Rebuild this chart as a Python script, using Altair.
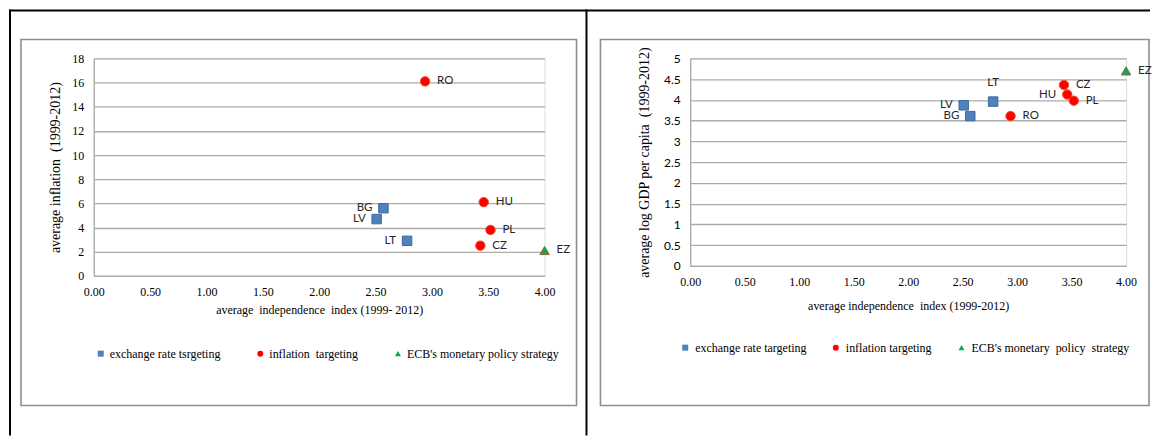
import json
import altair as alt
import pandas as pd

# ---------------- data ----------------
countries = ["BG", "LV", "LT", "RO", "HU", "PL", "CZ", "EZ"]
strategy_group = [0, 0, 0, 1, 1, 1, 1, 2]
independence = [2.57, 2.51, 2.78, 2.94, 3.46, 3.52, 3.43, 4.00]
inflation = [5.6, 4.7, 2.9, 16.1, 6.1, 3.8, 2.5, 2.1]
log_gdp = [3.61, 3.87, 3.96, 3.61, 4.13, 3.98, 4.36, 4.70]

NB = "\u00a0"
left_strategies = ["exchange rate tsrgeting", "inflation " + NB + "targeting",
                   "ECB's monetary policy strategy"]
right_strategies = ["exchange rate targeting", "inflation targeting",
                    "ECB's monetary " + NB + "policy " + NB + "strategy"]

x_ticks = [0, 0.5, 1.0, 1.5, 2.0, 2.5, 3.0, 3.5, 4.0]
left_y_ticks = [0, 2, 4, 6, 8, 10, 12, 14, 16, 18]
right_y_ticks = [0, 0.5, 1, 1.5, 2, 2.5, 3, 3.5, 4, 4.5, 5]

left_y_title = "average inflation " + NB + "(1999-2012)"
left_x_title = "average " + NB + "independence " + NB + "index (1999- 2012)"
right_y_title = "average log GDP per capita " + NB + "(1999-2012)"
right_x_title = "average independence " + NB + "index (1999-2012)"

# ---------------- styles ----------------
fill_colors = ["#4F81BD", "#FF0000", "#00B050"]
stroke_colors = ["#3F6A9E", "#F0502A", "#A0603A"]
shapes = ["square", "circle", "triangle-up"]
GRID = "#ABABAB"
SERIF = "Liberation Serif"
SANS = "Lato"


def panel(yvals, strategies, y_ticks, y_max, y_title, x_title, w, h,
          frame, legend_xy, label_offset, col_pad, left_lbls, above_lbls,
          y_label_font, y_title_pad, x_title_pad, extra_layers=()):
    df = pd.DataFrame({
        "country": countries,
        "index": independence,
        "value": yvals,
        "strategy": [strategies[g] for g in strategy_group],
    })
    base = alt.Chart(df)
    x = alt.X("index:Q",
              scale=alt.Scale(domain=[0, 4], nice=False, zero=True),
              axis=alt.Axis(values=x_ticks, format=".2f", title=x_title,
                            grid=False, ticks=False, domain=True,
                            domainColor=GRID, domainWidth=1.3,
                            labelFont=SERIF, labelFontSize=12,
                            labelColor="#000000", labelPadding=11,
                            labelOverlap=False,
                            titleFont=SERIF, titleFontSize=12,
                            titleFontWeight="normal", titleColor="#000000",
                            titlePadding=x_title_pad, labelFlush=False))
    y = alt.Y("value:Q",
              scale=alt.Scale(domain=[0, y_max], nice=False, zero=True),
              axis=alt.Axis(values=y_ticks, format="~g", title=y_title,
                            grid=True, gridColor=GRID, gridWidth=1.3,
                            ticks=False, domain=True, domainColor=GRID,
                            domainWidth=1.3, labelOverlap=False,
                            labelFont=y_label_font, labelFontSize=12,
                            labelColor="#000000", labelPadding=10,
                            titleFont=SERIF, titleFontSize=14,
                            titleFontWeight="normal", titleColor="#000000",
                            titlePadding=y_title_pad))
    leg = alt.Legend(title=None, orient="none", direction="horizontal",
                     columns=3, legendX=legend_xy[0], legendY=legend_xy[1],
                     symbolSize=36, labelFont=SERIF, labelFontSize=12,
                     labelColor="#000000", labelOffset=label_offset,
                     columnPadding=col_pad, padding=0, symbolStrokeWidth=0,
                     labelLimit=400)
    points = base.mark_point(filled=True, size=90, opacity=1,
                             strokeWidth=1).encode(
        x=x, y=y,
        color=alt.Color("strategy:N",
                        scale=alt.Scale(domain=strategies, range=fill_colors),
                        legend=leg),
        shape=alt.Shape("strategy:N",
                        scale=alt.Scale(domain=strategies, range=shapes),
                        legend=leg),
        stroke=alt.Stroke("strategy:N",
                          scale=alt.Scale(domain=strategies,
                                          range=stroke_colors),
                          legend=None),
    )
    text_kw = dict(font=SANS, fontSize=11.5, color="#262626",
                   baseline="middle")
    others = left_lbls + above_lbls
    right_text = base.mark_text(align="left", dx=12, **text_kw).encode(
        x=x, y=y, text="country:N"
    ).transform_filter(f"indexof({json.dumps(others)}, datum.country) < 0")
    layers = [right_text]
    if left_lbls:
        layers.append(base.mark_text(align="right", dx=-11, **text_kw).encode(
            x=x, y=y, text="country:N"
        ).transform_filter(alt.FieldOneOfPredicate(field="country",
                                                   oneOf=left_lbls)))
    if above_lbls:
        layers.append(base.mark_text(align="center", dy=-19, **text_kw).encode(
            x=x, y=y, text="country:N"
        ).transform_filter(alt.FieldOneOfPredicate(field="country",
                                                   oneOf=above_lbls)))
    deco = alt.Chart(alt.Data(values=[{"k": 1}]))
    box = deco.mark_rect(fillOpacity=0, stroke="#8E8E8E",
                         strokeWidth=1.6).encode(
        x=alt.value(frame[0]), x2=alt.value(frame[1]),
        y=alt.value(frame[2]), y2=alt.value(frame[3]))
    extra = [deco.mark_rect(fill="#000000").encode(
        x=alt.value(e[0]), x2=alt.value(e[1]),
        y=alt.value(e[2]), y2=alt.value(e[3])) for e in extra_layers]
    return alt.layer(*extra, box, points, *layers).properties(width=w, height=h)


# left panel plot origin ~ page (93, 57); chart origin page (8, 8)
left = panel(inflation, left_strategies, left_y_ticks, 18, left_y_title,
             left_x_title, 452, 218,
             frame=(-73, 484, -19, 348), legend_xy=(1, 290),
             label_offset=3, col_pad=33,
             left_lbls=["BG", "LV", "LT"], above_lbls=[],
             y_label_font=SERIF, y_title_pad=9, x_title_pad=7,
             extra_layers=[(-85, -83, -49, 378),      # left black edge
                           (-85, 1059, -49, -47),     # top black edge
                           (493, 495, -49, 378)])     # divider

right = panel(log_gdp, right_strategies, right_y_ticks, 5, right_y_title,
              right_x_title, 437, 208,
              frame=(-90, 460, -19, 348), legend_xy=(-11, 284),
              label_offset=4, col_pad=23,
              left_lbls=["LV", "BG", "HU"], above_lbls=["LT"],
              y_label_font=SANS, y_title_pad=12, x_title_pad=13)

chart = alt.HConcatChart(hconcat=[left, right], spacing=146, bounds="flush",
                         padding=0).resolve_scale(
    color="independent", shape="independent", stroke="independent"
).resolve_legend(
    color="independent", shape="independent"
).configure_view(stroke=None).configure(background="#FFFFFF")

chart.save("out.html", embed_options={"renderer": "svg", "actions": False})
